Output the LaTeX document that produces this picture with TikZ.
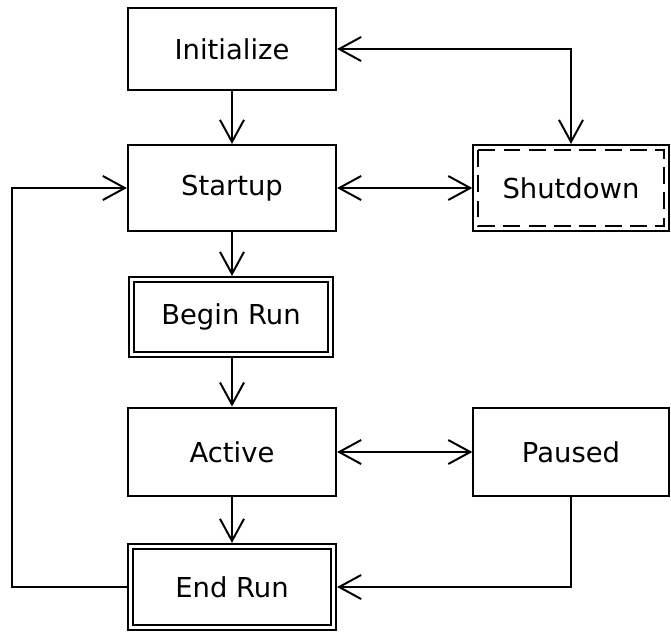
\documentclass[tikz,border=0pt]{standalone}
\usepackage{fontspec}
\setmainfont{DejaVu Sans}
\usetikzlibrary{arrows.meta}

\tikzset{
  state/.style={draw, line width=1.5pt, minimum width=5.2cm, minimum height=2.15cm,
    font=\fontsize{19.5}{22}\selectfont, inner sep=0pt},
  link/.style={line width=1.4pt, {Straight Barb[length=0.55cm,width=0.6cm,line width=1.4pt]}-{Straight Barb[length=0.55cm,width=0.6cm,line width=1.4pt]}},
  flow/.style={line width=1.4pt, -{Straight Barb[length=0.55cm,width=0.6cm,line width=1.4pt]}},
  inner/.style={line width=1.3pt}
}

\begin{document}
\begin{tikzpicture}[x=0.025cm,y=-0.025cm]
\useasboundingbox (0,0) rectangle (671,632);

% states
\node[state, minimum height=2.05cm] (init) at (232,49) {Initialize};
\node[state] (startup) at (232,188) {Startup};
\node[state, minimum width=4.88cm] (shutdown) at (571,188) {Shutdown};
\node[state, minimum width=5.1cm, minimum height=2cm] (beginrun) at (231,317) {Begin Run};
\node[state, minimum height=2.22cm] (active) at (232,452) {Active};
\node[state, minimum width=4.88cm, minimum height=2.22cm] (paused) at (571,452) {Paused};
\node[state] (endrun) at (232,587) {End Run};

% inner frames
\draw[inner, dash pattern=on 12pt off 6pt] ([shift={(6,6)}]shutdown.north west) rectangle ([shift={(-6,-6)}]shutdown.south east);
\draw[inner] ([shift={(6,6)}]beginrun.north west) rectangle ([shift={(-6,-6)}]beginrun.south east);
\draw[inner] ([shift={(6,6)}]endrun.north west) rectangle ([shift={(-6,-6)}]endrun.south east);

% transitions
\coordinate (back) at (12,0);
\draw[flow] (init) -- (startup);
\draw[link] (init.east) -| (shutdown.north);
\draw[link] (startup) -- (shutdown);
\draw[flow] (startup.south) -- (startup.south |- beginrun.north);
\draw[flow] (beginrun.south -| active.north) -- (active.north);
\draw[link] (active) -- (paused);
\draw[flow] (active) -- (endrun);
\draw[flow] (paused.south) |- (endrun.east);
\draw[flow] (endrun.west) -- (endrun.west -| back) |- (startup.west);
\end{tikzpicture}
\end{document}
